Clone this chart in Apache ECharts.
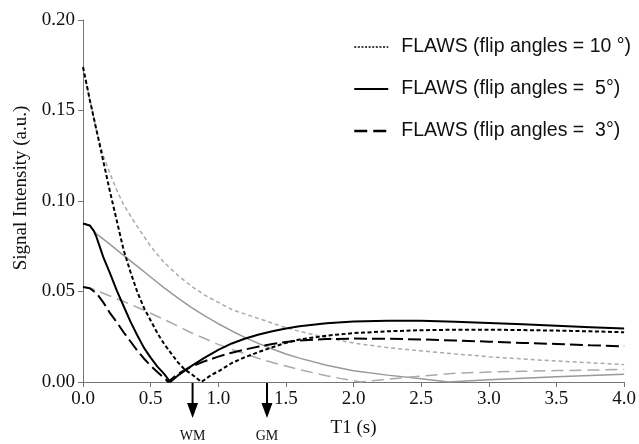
<!DOCTYPE html>
<html><head><meta charset="utf-8">
<script src="https://cdn.jsdelivr.net/npm/echarts@6/dist/echarts.min.js"></script>
<style>html,body{margin:0;padding:0;background:#fff}#c{width:639px;height:444px}</style>
</head><body><div id="c"></div>
<script>
// ---- Data ----
const seriesNames = ['FLAWS (flip angles = 10 °)', 'FLAWS (flip angles =  5°)', 'FLAWS (flip angles =  3°)'];

// Black curves (first signal), flip angle 10°
const t1Black10 = [0,0.05,0.1,0.15,0.2,0.25,0.3,0.35,0.4,0.45,0.5,0.55,0.6,0.65,0.7,0.75,0.8,0.875,0.95,1.0,1.1,1.2,1.3,1.4,1.5,1.6,1.8,2.0,2.25,2.5,2.75,3.0,3.25,3.5,3.75,4.0];
const sigBlack10 = [0.174,0.156,0.139,0.122,0.105,0.089,0.073,0.061,0.050,0.041,0.034,0.027,0.021,0.016,0.011,0.007,0.0045,0,0.004,0.0058,0.0105,0.0138,0.0166,0.0192,0.0216,0.0235,0.0256,0.0270,0.0280,0.0286,0.0289,0.0289,0.0287,0.0284,0.0280,0.0275];

// flip angle 5°
const t1Black5 = [0,0.05,0.08,0.1,0.125,0.15,0.2,0.25,0.3,0.35,0.4,0.45,0.5,0.55,0.6,0.645,0.7,0.8,0.9,1.0,1.1,1.2,1.3,1.4,1.5,1.6,1.8,2.0,2.25,2.5,2.75,3.0,3.25,3.5,3.75,4.0];
const sigBlack5 = [0.0876,0.0865,0.0835,0.080,0.0745,0.069,0.060,0.0505,0.042,0.0335,0.026,0.019,0.0135,0.0085,0.0045,0,0.0035,0.0088,0.0135,0.0178,0.0213,0.0240,0.0262,0.0280,0.0295,0.0308,0.0324,0.0334,0.0339,0.0338,0.0333,0.0326,0.0319,0.0311,0.0303,0.0295];

// flip angle 3°
const t1Black3 = [0,0.05,0.1,0.15,0.2,0.25,0.3,0.35,0.4,0.45,0.5,0.55,0.6,0.63,0.7,0.8,0.9,1.0,1.1,1.2,1.3,1.4,1.5,1.6,1.8,2.0,2.25,2.5,2.75,3.0,3.25,3.5,3.75,4.0];
const sigBlack3 = [0.0525,0.0518,0.0490,0.0440,0.0380,0.0330,0.0275,0.0225,0.0175,0.0130,0.0090,0.0055,0.0022,0,0.0045,0.0085,0.0115,0.0140,0.0162,0.0180,0.0196,0.0210,0.0221,0.0229,0.0237,0.0240,0.0239,0.0235,0.0229,0.0223,0.0216,0.0210,0.0203,0.0197];

// Gray curves (second signal)
const t1Gray10 = [0,0.05,0.1,0.15,0.2,0.25,0.3,0.35,0.4,0.5,0.6,0.7,0.8,0.9,1.0,1.1,1.2,1.3,1.4,1.5,1.6,1.8,2.0,2.25,2.5,2.75,3.0,3.25,3.5,3.75,4.0];
const sigGray10 = [0.174,0.156,0.139,0.125,0.115,0.106,0.098,0.092,0.086,0.075,0.066,0.059,0.053,0.048,0.044,0.040,0.0375,0.035,0.0325,0.030,0.028,0.0245,0.0215,0.019,0.0172,0.0155,0.014,0.0127,0.0116,0.0106,0.0096];

const t1Gray5 = [0,0.05,0.08,0.1,0.2,0.3,0.4,0.5,0.6,0.7,0.8,0.9,1.0,1.1,1.2,1.3,1.4,1.5,1.6,1.8,2.0,2.25,2.5,2.7,3.0,3.5,4.0];
const sigGray5 = [0.0876,0.0865,0.0835,0.0818,0.0760,0.0700,0.0640,0.0580,0.0520,0.0465,0.0412,0.0365,0.0322,0.0282,0.0245,0.0212,0.0182,0.0155,0.0132,0.0092,0.0062,0.0038,0.0018,0,0.0013,0.0029,0.0043];

const t1Gray3 = [0,0.05,0.1,0.2,0.3,0.4,0.5,0.6,0.7,0.8,0.9,1.0,1.1,1.2,1.3,1.4,1.5,1.6,1.8,1.9,2.0,2.05,2.25,2.5,2.75,3.0,3.25,3.5,3.75,4.0];
const sigGray3 = [0.0525,0.0520,0.0505,0.0475,0.0445,0.0413,0.0380,0.0345,0.0310,0.0272,0.0240,0.0208,0.0180,0.0155,0.0130,0.0108,0.0088,0.0068,0.0035,0.0020,0.0008,0,0.0015,0.0033,0.0048,0.0055,0.0059,0.0063,0.0066,0.0069];

// Tissue markers below axis
const markerT1 = [0.81, 1.36];
const markerLabels = ['WM', 'GM'];

// ---- Chart ----
const chart = echarts.init(document.getElementById('c'), null, {renderer: 'canvas'});
const zip = (t, v) => t.map((x, i) => [x, v[i]]);
const serif = '"Liberation Serif","Times New Roman",serif';
const sans = '"Liberation Sans",Arial,sans-serif';

function mk(name, t, v, color, width, dash, z) {
  return {
    name: name, type: 'line', data: zip(t, v), showSymbol: false, symbol: 'none',
    smooth: false, z: z, silent: true,
    lineStyle: {color: color, width: width, type: dash},
    itemStyle: {color: color}
  };
}

const option = {
  animation: false,
  backgroundColor: '#fff',
  grid: {left: 83, right: 12, top: 20, bottom: 62},
  legend: {
    orient: 'vertical', left: 348, top: 32,
    itemWidth: 34, itemHeight: 20, itemGap: 22,
    data: [
      {name: seriesNames[0], lineStyle: {width: 1.7, type: [2, 1.6]}},
      {name: seriesNames[1]},
      {name: seriesNames[2], lineStyle: {width: 2.5, type: [13, 6]}}
    ],
    itemStyle: {color: 'transparent', borderWidth: 0, opacity: 0},
    textStyle: {fontFamily: sans, fontSize: 19.5, color: '#111', padding: [0, 0, 0, 8]}
  },
  xAxis: {
    type: 'value', min: 0, max: 4, interval: 0.5,
    name: 'T1 (s)', nameLocation: 'middle', nameGap: 37,
    nameTextStyle: {fontFamily: serif, fontSize: 19, color: '#111'},
    axisLine: {lineStyle: {color: '#777', width: 1}},
    axisTick: {length: 5, lineStyle: {color: '#777'}},
    axisLabel: {fontFamily: serif, fontSize: 19, color: '#111', margin: 8, formatter: v => v.toFixed(1)},
    splitLine: {show: false}
  },
  yAxis: {
    type: 'value', min: 0, max: 0.2, interval: 0.05,
    name: 'Signal Intensity (a.u.)', nameLocation: 'middle', nameGap: 48, nameRotate: 90,
    nameTextStyle: {fontFamily: serif, fontSize: 19, color: '#111', padding: [0, 0, 0, 26]},
    axisLine: {show: true, lineStyle: {color: '#777', width: 1}},
    axisTick: {show: true, length: 5, lineStyle: {color: '#777'}},
    axisLabel: {fontFamily: serif, fontSize: 19, color: '#111', margin: 8, formatter: v => v.toFixed(2)},
    splitLine: {show: false}
  },
  series: [
    mk('gray10', t1Gray10, sigGray10, '#aaaaaa', 1.5, [4, 3], 1),
    mk('gray5', t1Gray5, sigGray5, '#999999', 1.5, 'solid', 1),
    mk('gray3', t1Gray3, sigGray3, '#aaaaaa', 1.5, [12, 6], 1),
    mk(seriesNames[0], t1Black10, sigBlack10, '#000000', 2, [4, 2.5], 3),
    mk(seriesNames[1], t1Black5, sigBlack5, '#000000', 2, 'solid', 3),
    mk(seriesNames[2], t1Black3, sigBlack3, '#000000', 2, [13, 5], 3)
  ]
};
chart.setOption(option);

const g = [];
markerT1.forEach((t, i) => {
  const p = chart.convertToPixel({xAxisIndex: 0, yAxisIndex: 0}, [t, 0]);
  g.push({type: 'line', shape: {x1: p[0], y1: p[1], x2: p[0], y2: p[1] + 24}, style: {stroke: '#000', lineWidth: 2}});
  g.push({type: 'polygon', shape: {points: [[p[0] - 5.5, p[1] + 21], [p[0] + 5.5, p[1] + 21], [p[0], p[1] + 36]]}, style: {fill: '#000'}});
  g.push({type: 'text', x: p[0], y: p[1] + 54, style: {text: markerLabels[i], fontFamily: serif, fontSize: 14, fill: '#111', align: 'center', verticalAlign: 'middle'}});
});
chart.setOption({graphic: g});
</script>
</body></html>
